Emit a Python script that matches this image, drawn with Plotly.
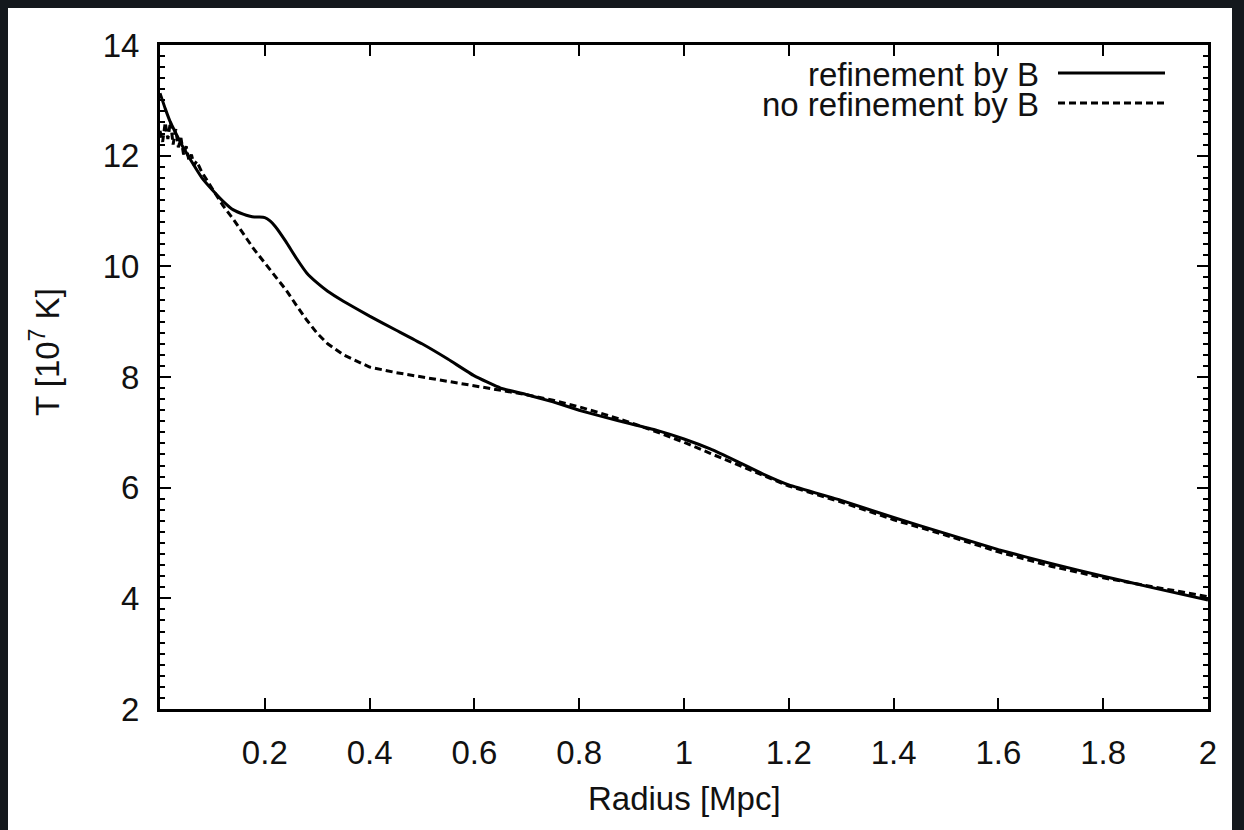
import plotly.graph_objects as go

# ---- data ----
r_refined = [0, 0.01, 0.02, 0.03, 0.04, 0.06, 0.08, 0.1, 0.12, 0.14, 0.16, 0.17, 0.18, 0.19, 0.2,
             0.21, 0.22, 0.24, 0.26, 0.28, 0.3, 0.32, 0.35, 0.4, 0.45, 0.5, 0.55, 0.6, 0.65, 0.7,
             0.75, 0.8, 0.85, 0.9, 0.95, 1.0, 1.05, 1.1, 1.15, 1.2, 1.3, 1.4, 1.5, 1.6, 1.7, 1.8,
             1.9, 2.0]
t_refined = [13.13, 12.85, 12.6, 12.41, 12.22, 11.9, 11.6, 11.38, 11.18, 11.02, 10.94, 10.91, 10.89,
             10.89, 10.88, 10.82, 10.72, 10.45, 10.15, 9.88, 9.7, 9.55, 9.37, 9.1, 8.85, 8.6, 8.32,
             8.02, 7.8, 7.68, 7.55, 7.4, 7.27, 7.15, 7.03, 6.88, 6.7, 6.48, 6.25, 6.05, 5.77, 5.46,
             5.17, 4.88, 4.63, 4.4, 4.18, 3.97]

r_norefine = [0, 0.005, 0.01, 0.015, 0.02, 0.025, 0.03, 0.035, 0.04, 0.045, 0.05, 0.055, 0.06,
              0.065, 0.07, 0.08, 0.09, 0.1, 0.11, 0.12, 0.14, 0.16, 0.18, 0.2, 0.22, 0.24, 0.26,
              0.28, 0.3, 0.32, 0.35, 0.4, 0.45, 0.5, 0.55, 0.6, 0.65, 0.7, 0.75, 0.8, 0.85, 0.9,
              0.95, 1.0, 1.05, 1.1, 1.15, 1.2, 1.3, 1.4, 1.5, 1.6, 1.7, 1.8, 1.9, 2.0]
t_norefine = [12.45, 12.25, 12.6, 12.3, 12.62, 12.2, 12.48, 12.15, 12.32, 12.02, 12.17, 11.92, 12.02,
              11.83, 11.9, 11.7, 11.55, 11.4, 11.25, 11.1, 10.85, 10.57, 10.3, 10.06, 9.83, 9.58,
              9.3, 9.03, 8.79, 8.6, 8.4, 8.18, 8.08, 8.0, 7.93, 7.85, 7.76, 7.68, 7.58, 7.46, 7.32,
              7.17, 7.0, 6.82, 6.62, 6.42, 6.22, 6.03, 5.74, 5.42, 5.14, 4.84, 4.58, 4.37, 4.2, 4.03]

x_tickvals = [0.2, 0.4, 0.6, 0.8, 1.0, 1.2, 1.4, 1.6, 1.8, 2.0]
x_ticktext = ["0.2", "0.4", "0.6", "0.8", "1", "1.2", "1.4", "1.6", "1.8", "2"]
y_tickvals = [2, 4, 6, 8, 10, 12, 14]

legend_labels = ["refinement by B", "no refinement by B"]

# ---- layout geometry (pixels) ----
W, H = 1244, 830
L, R, T, B = 160, 36, 45, 121
PW, PH = W - L - R, H - T - B


def px(xp):
    return (xp - L) / PW


def py(yp):
    return (H - B - yp) / PH


FONT = "Liberation Sans, Arial, Helvetica, sans-serif"
FS = 33

fig = go.Figure()
fig.add_trace(go.Scatter(x=r_refined, y=t_refined, mode="lines", name=legend_labels[0],
                         line=dict(color="black", width=3, shape="spline", smoothing=0.4),
                         showlegend=False))
fig.add_trace(go.Scatter(x=r_norefine, y=t_norefine, mode="lines", name=legend_labels[1],
                         line=dict(color="black", width=3, dash="7px,4px"), showlegend=False))

shapes = [
    # white page on dark background
    dict(type="rect", xref="paper", yref="paper", x0=px(8), x1=px(1232), y0=py(838), y1=py(8),
         fillcolor="white", line=dict(width=0), layer="below"),
    # legend samples
    dict(type="line", xref="paper", yref="paper", x0=px(1058), x1=px(1165), y0=py(73), y1=py(73),
         line=dict(color="black", width=3)),
    dict(type="line", xref="paper", yref="paper", x0=px(1058), x1=px(1165), y0=py(103), y1=py(103),
         line=dict(color="black", width=3, dash="7px,4px")),
]

annotations = [
    dict(text=legend_labels[0], xref="paper", yref="paper", x=px(1041), y=py(74),
         xanchor="right", yanchor="middle", showarrow=False,
         font=dict(size=FS, family=FONT, color="#111")),
    dict(text=legend_labels[1], xref="paper", yref="paper", x=px(1041), y=py(104),
         xanchor="right", yanchor="middle", showarrow=False,
         font=dict(size=FS, family=FONT, color="#111")),
    dict(text="T [10<sup>7</sup> K]", xref="paper", yref="paper", x=px(45), y=py(352),
         xanchor="center", yanchor="middle", textangle=-90, showarrow=False,
         font=dict(size=FS, family=FONT, color="#111")),
    dict(text="Radius [Mpc]", xref="paper", yref="paper", x=px(684), y=py(798),
         xanchor="center", yanchor="middle", showarrow=False,
         font=dict(size=FS, family=FONT, color="#111")),
]

fig.update_layout(
    width=W, height=H,
    margin=dict(l=L, r=R, t=T, b=B, pad=0),
    paper_bgcolor="#14181d",
    plot_bgcolor="white",
    font=dict(family=FONT, size=FS, color="#111"),
    shapes=shapes,
    annotations=annotations,
    showlegend=False,
    xaxis=dict(range=[0, 2], tickvals=x_tickvals, ticktext=x_ticktext,
               ticks="inside", ticklen=11, tickwidth=2, tickcolor="black",
               showline=True, linecolor="black", linewidth=3, mirror="allticks",
               showgrid=False, zeroline=False, ticklabelstandoff=12,
               tickfont=dict(size=FS, family=FONT, color="#111")),
    yaxis=dict(range=[2, 14], tickvals=y_tickvals,
               ticks="inside", ticklen=11, tickwidth=2, tickcolor="black",
               minor=dict(dtick=0.2, tick0=2, ticks="inside", ticklen=5, tickwidth=2,
                          tickcolor="black", showgrid=False),
               showline=True, linecolor="black", linewidth=3, mirror="allticks",
               showgrid=False, zeroline=False, ticklabelstandoff=11,
               tickfont=dict(size=FS, family=FONT, color="#111")),
)

fig.write_html("out.html")
